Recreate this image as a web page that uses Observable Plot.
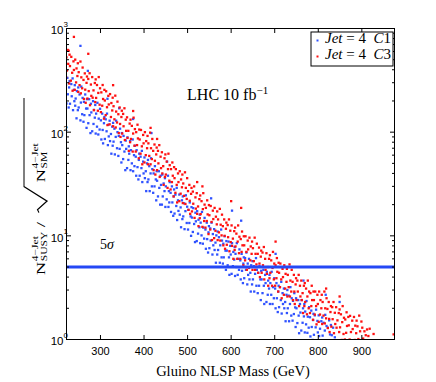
<!DOCTYPE html>
<html>
<head>
<meta charset="utf-8">
<script src="https://cdn.jsdelivr.net/npm/d3@7"></script>
<script src="https://cdn.jsdelivr.net/npm/@observablehq/plot@0.6"></script>
<style>
  html, body { margin: 0; padding: 0; background: #fff; }
  #chart svg { display: block; }
</style>
</head>
<body>
<div id="chart"></div>
<script>
// ---- data: [gluino NLSP mass (GeV), N_SUSY / sqrt(N_SM)] ----
const c1Points = [
[221,288],[222,189],[223,612],[224,334],[225,232],[227,173],[228,270],[229,311],
[230,188],[233,291],[234,222],[236,330],[237,163],[239,256],[240,199],
[241,284],[242,180],[243,211],[245,136],[246,249],[248,163],[249,270],
[250,173],[252,231],[254,680],[254,130],[255,193],[256,275],[258,149],[259,214],
[261,126],[262,196],[263,146],[265,231],[267,169],[268,110],[269,208],
[270,169],[271,390],[272,122],[274,208],[275,146],[277,98],[278,188],[279,155],
[281,102],[283,199],[284,120],[285,164],[287,138],[288,183],[289,97],
[290,151],[292,113],[293,192],[295,95],[296,135],[298,106],[299,168],
[301,130],[302,85],[304,151],[305,105],[306,78],[308,122],[309,140],
[310,86],[312,133],[314,102],[315,151],[316,210],[317,75],[318,118],[319,91],
[321,129],[322,82],[324,96],[325,62],[327,113],[328,74],[329,123],
[330,81],[332,108],[333,61],[335,90],[336,129],[338,70],[339,100],
[341,59],[342,92],[343,170],[344,69],[345,108],[347,80],[348,51],[349,98],
[350,75],[352,55],[353,92],[355,65],[357,43],[358,83],[359,69],
[361,45],[362,89],[364,54],[365,73],[366,62],[368,82],[369,43],
[370,67],[372,50],[374,85],[375,134],[375,42],[377,60],[378,47],[379,74],
[381,58],[382,38],[383,67],[385,46],[387,35],[388,54],[389,62],
[390,38],[392,58],[394,45],[395,66],[396,33],[398,52],[399,40],
[401,57],[402,36],[404,42],[405,27],[407,50],[408,33],[409,54],
[410,35],[412,47],[413,27],[415,40],[416,56],[417,98],[418,30],[419,44],
[421,26],[422,40],[424,30],[425,47],[427,35],[428,22],[429,42],
[430,34],[432,24],[434,42],[435,29],[437,20],[438,38],[439,31],
[441,20],[442,39],[443,24],[445,32],[447,27],[448,36],[449,19],
[450,30],[452,22.5],[453,52],[455,38],[456,19],[457,27],[458,21],[459,33],
[461,26],[462,17],[464,30],[465,21],[467,15.6],[468,24],[469,28],
[470,16.4],[472,25],[474,19.4],[475,29],[476,14.2],[478,22],[479,17.4],
[481,25],[482,16],[484,18.8],[485,12.1],[487,22],[488,14.5],[489,24],
[490,15.4],[492,20.6],[493,11.6],[495,17.3],[496,24.6],[498,13.3],[499,19.1],
[501,11.5],[502,17.8],[504,13.3],[505,21],[507,15.4],[508,10],[509,18.9],
[510,15],[512,10.9],[513,18.5],[515,13],[517,8.7],[518,16.7],[519,13.8],
[521,8.9],[522,17.3],[524,10.5],[525,14.3],[527,12.1],[528,16],[529,8.5],
[530,13.4],[532,10.1],[533,17],[535,8.4],[536,12],[538,9.4],[539,14.9],
[541,11.5],[542,7.5],[544,13.4],[545,9.3],[547,6.9],[548,10.8],[549,12.4],
[550,7.6],[552,11.8],[553,9],[554,23],[555,13.4],[557,6.6],[558,10.4],[559,8.1],
[561,11.6],[562,7.3],[564,8.6],[565,5.5],[566,10.1],[568,6.6],[569,11],
[570,7.3],[572,9.7],[574,5.5],[575,8.1],[577,11.5],[578,6.2],[579,9],
[581,5.4],[582,8.4],[583,6.2],[585,9.9],[587,7.2],[588,4.7],[589,8.9],
[590,7.2],[592,5.2],[594,8.8],[595,6.2],[596,4.2],[598,8],[599,6.6],
[601,4.3],[602,17.5],[602,8.5],[604,5.1],[605,7],[607,5.9],[608,7.8],[609,4.1],
[610,6.7],[612,5],[613,8.5],[615,4.2],[616,6],[618,4.7],[619,7.4],
[621,5.8],[622,3.8],[623,14],[624,6.7],[625,4.6],[627,3.5],[628,5.4],[629,6.2],
[630,3.9],[632,6.1],[634,4.7],[635,6.9],[637,3.4],[638,5.4],[639,4.2],
[641,6],[642,3.8],[644,4.4],[645,2.9],[646,5.2],[648,3.4],[649,5.7],
[650,3.8],[652,5.1],[653,2.9],[655,4.3],[657,6.1],[658,3.3],[659,4.7],
[661,2.8],[662,4.4],[664,3.3],[665,5.1],[667,3.8],[668,2.4],[669,4.6],
[670,3.8],[672,2.8],[674,4.7],[675,3.3],[676,2.2],[678,4.2],[679,3.5],
[681,2.3],[682,4.5],[684,2.7],[685,3.7],[687,3.1],[688,4.2],[689,2.2],
[690,3.5],[692,2.7],[693,4.5],[695,2.2],[696,3.2],[698,2.5],[699,3.9],
[701,3.1],[702,6.7],[702,2],[704,3.5],[705,2.5],[707,1.84],[708,2.9],[709,3.3],
[710,2.05],[712,3.2],[714,2.4],[715,3.6],[716,1.78],[718,2.8],[719,2.2],
[721,3.1],[722,2],[724,2.3],[725,1.5],[727,2.7],[728,1.8],[729,3],
[730,2],[732,2.65],[733,1.5],[735,2.2],[736,3.2],[738,1.7],[739,2.5],
[741,1.52],[742,2.36],[744,1.76],[745,2.8],[747,2.04],[748,1.32],[749,2.5],
[750,2],[752,1.44],[754,2.4],[755,1.7],[756,1.15],[758,2.2],[759,1.82],
[761,1.22],[762,2.4],[764,1.45],[765,2],[766,3.7],[767,1.67],[768,2.2],[769,1.17],
[770,1.86],[772,1.4],[773,2.35],[775,1.16],[776,1.66],[778,1.3],[779,2.05],
[781,1.64],[782,1.07],[784,1.9],[785,1.32],[787,0.99],[788,1.54],[789,1.77],
[790,1.11],[792,1.71],[794,1.31],[795,1.94],[796,0.96],[798,1.51],[799,1.17],
[801,1.71],[802,1.08],[804,1.27],[805,0.82],[807,1.5],[808,0.98],[809,1.63],
[810,1.09],[812,1.45],[813,0.82],[815,1.22],[816,1.73],[817,2.7],[818,0.94],[819,1.35],
[821,0.84],[822,1.3],[824,0.97],[825,1.53],[827,1.12],[828,0.73],[829,1.38],
[831,1.1],[834,1.3],[838,1.05],[849,2.3]
];
const c3Points = [
[221,340],[222,527],[223,393],[225,621],[226,456],[227,610],[228,295],[229,559],
[230,434],[232,314],[233,533],[235,374],[236,251],[238,482],[239,398],[239,830],
[241,256],[242,501],[244,302],[245,412],[247,348],[248,462],[249,245],
[250,379],[252,284],[254,480],[255,237],[256,338],[258,265],[259,420],
[261,319],[262,209],[264,369],[265,257],[266,192],[268,299],[269,344],
[270,211],[272,326],[272,570],[273,249],[275,370],[276,182],[278,288],[279,224],
[281,340],[282,215],[284,253],[285,163],[287,298],[288,195],[289,323],
[290,214],[292,285],[294,161],[295,239],[296,340],[298,184],[299,265],
[301,156],[302,242],[304,180],[305,285],[306,209],[308,135],[309,256],
[310,202],[312,146],[313,248],[315,174],[316,117],[318,224],[319,185],
[321,119],[322,233],[324,140],[325,191],[327,162],[328,215],[329,284],[329,114],
[330,178],[332,133],[334,225],[335,111],[336,158],[338,124],[339,197],
[341,149],[342,98],[344,173],[345,120],[346,90],[348,140],[349,161],
[350,97],[352,150],[353,114],[355,170],[356,84],[358,132],[359,103],
[361,139],[362,88],[364,103],[365,66],[367,121],[368,80],[369,132],
[370,86],[372,115],[374,65],[375,97],[375,160],[376,138],[378,74],[379,107],
[381,65],[382,100],[384,75],[385,118],[386,87],[388,56],[389,106],
[390,85],[392,62],[393,105],[395,73],[396,49],[398,94],[399,78],
[401,51],[402,100],[404,60],[405,82],[407,70],[408,92],[409,49],
[410,78],[412,59],[414,99],[415,49],[415,110],[416,70],[418,55],[419,86],
[421,66],[422,43],[424,76],[425,53],[426,39],[428,61],[429,71],
[430,43],[430,86],[432,66],[433,50],[435,75],[436,37],[438,58],[439,45],
[441,64],[442,40],[444,47],[445,31],[447,56],[448,37],[449,61],
[450,39],[452,52],[454,29],[455,44],[456,62],[458,34],[459,48],
[461,28],[462,44],[464,33],[465,51],[466,38],[468,24],[469,46],
[470,36],[472,26],[473,44],[475,31],[476,21],[478,40],[479,33],
[481,21.6],[482,42],[484,25.5],[485,35],[487,29.4],[488,39],[489,20.7],
[490,32],[492,24.3],[494,41],[495,20.3],[496,29],[498,22.7],[499,36],
[501,27],[502,17.8],[504,31],[505,21.8],[506,16.3],[508,25.4],[509,29],
[510,17.2],[512,26.7],[513,20.4],[515,30],[516,14.9],[518,23.5],[519,18.3],
[521,25.8],[522,16.3],[522,33],[524,19.2],[525,12.4],[527,22.6],[528,14.8],[529,24.5],
[530,16.2],[532,21.6],[534,12.2],[534,30],[535,18.1],[536,25.8],[538,13.9],[539,20],
[541,12],[542,18.6],[544,13.9],[545,22],[546,16.1],[548,10.4],[549,19.8],
[550,15.8],[552,11.5],[553,19.4],[555,13.6],[556,9.1],[558,17.5],[559,14.5],
[561,9.5],[562,18.6],[564,11.2],[565,15.3],[567,12.9],[568,17.2],[569,9.1],
[570,14.4],[572,10.8],[574,18.2],[575,9],[576,12.8],[578,10.1],[579,16],
[581,12.4],[582,8.1],[584,14.4],[585,10],[586,7.5],[588,11.7],[589,13.4],
[590,8.2],[592,12.7],[593,9.7],[595,14.4],[596,7.1],[598,11.2],[599,8.7],
[600,21.6],[601,12.6],[602,8],[604,9.4],[605,6],[607,11.1],[608,7.3],[609,12],
[610,7.9],[612,10.5],[614,6],[615,8.8],[616,12.6],[618,6.8],[619,9.8],
[621,6],[622,9.3],[623,18.6],[624,7],[625,11],[626,8.1],[628,5.2],[629,9.9],
[630,8.1],[632,5.8],[633,9.9],[635,7],[636,4.7],[638,9],[639,7.4],
[641,4.9],[642,9.6],[644,5.8],[645,7.9],[647,6.7],[648,8.8],[649,4.7],
[650,7.6],[652,5.7],[654,9.6],[655,4.7],[656,6.7],[658,5.3],[659,8.4],
[661,6.7],[662,4.4],[664,7.7],[665,5.4],[666,4],[668,6.3],[669,7.2],
[670,4.4],[672,6.9],[673,5.2],[675,7.8],[676,3.8],[678,6],[679,4.7],
[681,6.8],[682,4.3],[684,5],[685,3.3],[687,6],[688,3.9],[689,6.5],
[690,4.4],[692,5.8],[694,3.3],[695,4.9],[696,7],[698,3.8],[699,5.4],
[701,3.3],[702,5.2],[702,8.8],[704,3.9],[705,6.1],[706,4.5],[708,2.9],[709,5.5],
[710,4.4],[712,3.2],[713,5.4],[715,3.8],[716,2.5],[718,4.8],[719,4],
[721,2.7],[722,5.2],[724,3.1],[725,4.3],[727,3.6],[728,4.8],[729,2.6],
[730,4.2],[732,3.2],[734,5.3],[735,2.6],[736,3.7],[738,2.9],[739,4.7],
[741,3.6],[742,2.4],[744,4.2],[745,2.9],[746,2.2],[748,3.4],[749,3.9],
[750,2.4],[752,3.7],[753,2.9],[755,4.2],[756,2.1],[758,3.3],[759,2.6],
[761,3.7],[762,2.4],[764,2.8],[765,1.8],[767,3.3],[768,2.1],[769,3.5],
[770,2.3],[772,3.1],[774,1.75],[775,2.6],[776,3.7],[778,2],[779,2.9],
[781,1.8],[782,2.8],[784,2.1],[785,3.3],[786,2.4],[788,1.55],[789,2.9],
[790,2.4],[792,1.74],[793,2.9],[795,2.1],[796,1.4],[798,2.7],[799,2.2],
[801,1.48],[802,2.9],[804,1.74],[805,2.4],[807,2],[808,2.7],[809,1.41],
[810,2.3],[812,1.7],[814,2.9],[815,1.43],[816,2],[818,1.6],[818,3.1],[819,2.5],
[821,1.97],[822,1.29],[824,2.3],[825,1.58],[826,1.18],[828,1.84],[829,2.1],
[830,1.33],[832,2.05],[833,1.57],[835,2.3],[836,1.15],[838,1.81],[839,1.41],
[841,2.05],[842,1.3],[844,1.53],[845,0.98],[847,1.8],[848,1.18],[849,1.95],[849,2.6],
[850,1.31],[852,1.75],[854,0.99],[855,1.47],[856,2.1],[858,1.13],[859,1.62],
[861,1],[862,1.56],[864,1.16],[865,1.83],[866,1.35],[868,0.87],[869,1.65],
[870,1.37],[872,1],[873,1.69],[875,1.18],[876,0.79],[878,1.52],[879,1.26],
[881,0.84],[882,1.65],[884,0.99],[885,1.36],[887,1.15],[888,1.52],[889,0.81],
[890,1.34],[892,1.01],[894,1.7],[895,0.84],[896,1.2],[898,0.94],[899,1.49],
[901,1.3],[903,1.02],[906,1.2],[909,1.1],[912,1.25],[915,1.08],[918,1.27],[927,1.13],[973,1.12]
];
const seriesNames = ["C1", "C3"];
const seriesColors = ["#2f52ff", "#ff1010"];
const thresholdValue = 5;            // 5 sigma line
const xTicks = [300, 400, 500, 600, 700, 800, 900];
const yTicks = [1, 10, 100, 1000];
const yTickExponents = ["0", "1", "2", "3"];
const yMinorTicks = [2,3,4,5,6,7,8,9,20,30,40,50,60,70,80,90,200,300,400,500,600,700,800,900];
const xDomain = [222, 975];
const yDomain = [1, 1000];
const lhcNote = {mass: 500, value: 200};
const sigmaNote = {mass: 300, value: 7.4};

const toRows = (pts, name) => pts.map(([mass, value]) => ({mass, value, series: name}));
const c1 = toRows(c1Points, seriesNames[0]);
const c3 = toRows(c3Points, seriesNames[1]);

const noText = () => "";
const plot = Plot.plot({
  width: 436,
  height: 382,
  marginLeft: 66,
  marginRight: 42,
  marginTop: 28,
  marginBottom: 43,
  x: {domain: xDomain},
  y: {type: "log", domain: yDomain},
  style: {fontFamily: "'Liberation Sans', Arial, sans-serif", fontSize: "11px", color: "black", background: "white"},
  marks: [
    Plot.dot(c1, {x: "mass", y: "value", fill: seriesColors[0], r: 1.3, symbol: "square", clip: true}),
    Plot.dot(c3, {x: "mass", y: "value", fill: seriesColors[1], r: 1.3, symbol: "square", clip: true}),
    Plot.ruleY([thresholdValue], {stroke: "#2448f5", strokeWidth: 3}),
    Plot.frame({stroke: "black", strokeWidth: 1}),
    // inward ticks
    Plot.axisX({ticks: xTicks, anchor: "bottom", tickSize: -4, tickFormat: noText, label: null}),
    Plot.axisX({ticks: xTicks, anchor: "top", tickSize: -4, tickFormat: noText, label: null}),
    Plot.axisY({ticks: yTicks, anchor: "left", tickSize: -5, tickFormat: noText, label: null}),
    Plot.axisY({ticks: yTicks, anchor: "right", tickSize: -5, tickFormat: noText, label: null}),
    Plot.axisY({ticks: yMinorTicks, anchor: "left", tickSize: -3, tickFormat: noText, label: null}),
    Plot.axisY({ticks: yMinorTicks, anchor: "right", tickSize: -3, tickFormat: noText, label: null}),
    // tick labels
    Plot.axisX({ticks: xTicks, anchor: "bottom", tickSize: 0, tickPadding: 8, label: null, fontSize: 11}),
    Plot.text(yTicks, {y: d => d, text: () => "10", frameAnchor: "left", textAnchor: "end", dx: -3, dy: 2, fontSize: 11.5}),
    Plot.text(yTicks, {y: d => d, text: (d, i) => yTickExponents[i], frameAnchor: "left", textAnchor: "start", dx: -3, dy: -4, fontSize: 8})
  ]
});
document.getElementById("chart").appendChild(plot);

const svg = d3.select(plot);
const sx = plot.scale("x"), sy = plot.scale("y");
const serif = "'Liberation Serif', 'Times New Roman', serif";

// LHC annotation
const lhc = svg.append("text")
  .attr("x", sx.apply(lhcNote.mass)).attr("y", sy.apply(lhcNote.value))
  .attr("text-anchor", "start")
  .attr("font-family", serif).attr("font-size", 16).attr("fill", "black");
lhc.append("tspan").text("LHC 10 fb");
lhc.append("tspan").attr("dy", -6).attr("font-size", 11).text("−1");

// 5 sigma annotation
const sig = svg.append("text")
  .attr("x", sx.apply(sigmaNote.mass)).attr("y", sy.apply(sigmaNote.value))
  .attr("text-anchor", "start")
  .attr("font-family", serif).attr("font-size", 14).attr("fill", "black");
sig.append("tspan").text("5");
sig.append("tspan").attr("font-style", "italic").text("σ");

// x label
svg.append("text")
  .attr("x", 233).attr("y", 376).attr("text-anchor", "middle")
  .attr("font-family", serif).attr("font-size", 14.5).attr("fill", "black")
  .text("Gluino NLSP Mass (GeV)");

// y label (rotated), N^{4-Jet}_{SUSY} / sqrt(N^{4-Jet}_{SM})
const yl = svg.append("g").attr("transform", "translate(45,275) rotate(-90) scale(1.45,1)")
  .attr("font-family", serif).attr("fill", "black").attr("text-anchor", "start");
yl.append("text").attr("x", 0).attr("y", 0).attr("font-size", 12.5).text("N");
yl.append("text").attr("x", 9.5).attr("y", -7.5).attr("font-size", 8).text("4−Jet");
yl.append("text").attr("x", 9.5).attr("y", 2).attr("font-size", 8).text("SUSY");
yl.append("text").attr("x", 33).attr("y", 0).attr("font-size", 13).text("/");
yl.append("path").attr("d", "M43,-6 L45,-7.5 L51,2 L61,-21 L122,-21")
  .attr("fill", "none").attr("stroke", "black").attr("stroke-width", 1);
yl.append("text").attr("x", 64).attr("y", 0).attr("font-size", 12.5).text("N");
yl.append("text").attr("x", 73.5).attr("y", -7.5).attr("font-size", 8).text("4−Jet");
yl.append("text").attr("x", 73.5).attr("y", 2).attr("font-size", 8).text("SM");

// legend
const lg = svg.append("g");
lg.append("rect").attr("x", 311).attr("y", 32).attr("width", 82).attr("height", 34)
  .attr("fill", "white").attr("stroke", "black").attr("stroke-width", 1);
seriesNames.forEach((name, i) => {
  const yy = 43 + i * 16;
  lg.append("rect").attr("x", 316.5).attr("y", yy - 3.5).attr("width", 2).attr("height", 2)
    .attr("fill", seriesColors[i]);
  const t = lg.append("text").attr("x", 325).attr("y", yy).attr("text-anchor", "start")
    .attr("font-family", serif).attr("font-size", 15).attr("fill", "black")
    .style("white-space", "pre");
  t.append("tspan").attr("font-style", "italic").text("Jet");
  t.append("tspan").text(" = 4  ");
  t.append("tspan").attr("font-style", "italic").text(name[0]);
  t.append("tspan").text(name.slice(1));
});
</script>
</body>
</html>
